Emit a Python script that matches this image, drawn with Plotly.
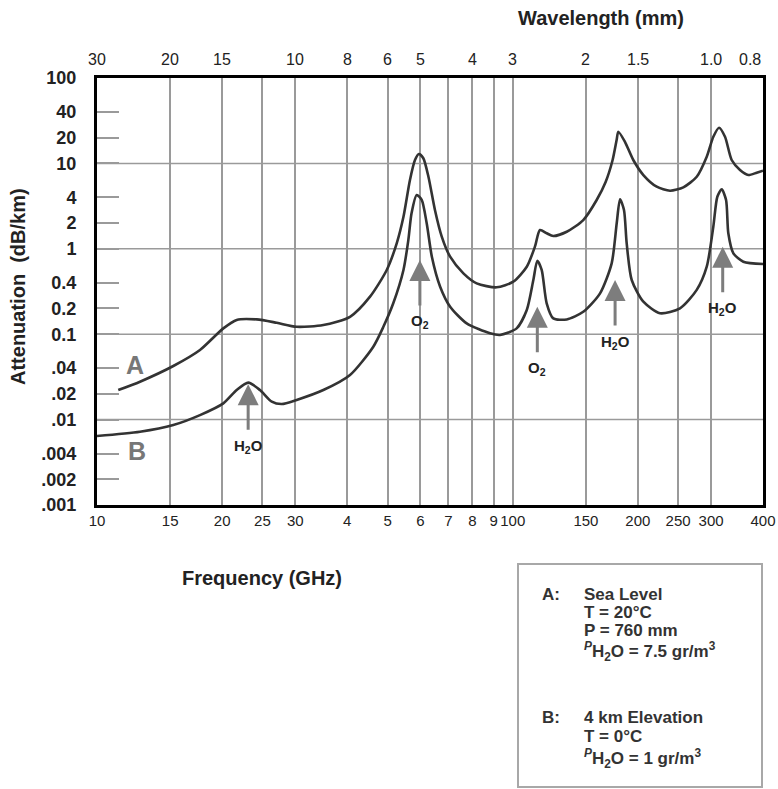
import math
import plotly.graph_objects as go

# Frequency axis ticks (GHz) and the labels printed under them
freq_ticks = [10, 15, 20, 25, 30, 40, 50, 60, 70, 80, 90, 100, 150, 200, 250, 300, 400]
freq_labels = ["10", "15", "20", "25", "30", "4", "5", "6", "7", "8", "9",
               "100", "150", "200", "250", "300", "400"]

# Wavelength scale along the top (mm) and the frequency each label sits at
wave_labels = ["30", "20", "15", "10", "8", "6", "5", "4", "3", "2", "1.5", "1.0", "0.8"]
wave_freq = [10, 15, 20, 30, 40, 50, 60, 80, 100, 150, 200, 300, 372]

# Attenuation axis (dB/km)
att_ticks = [100, 40, 20, 10, 4, 2, 1, 0.4, 0.2, 0.1, 0.04, 0.02, 0.01, 0.004, 0.002, 0.001]
att_labels = ["100", "40", "20", "10", "4", "2", "1", "0.4", "0.2", "0.1",
              ".04", ".02", ".01", ".004", ".002", ".001"]
att_grid = [10, 1, 0.1, 0.01]

# Curve A: sea level, T = 20 C, P = 760 mm, water vapour 7.5 g/m3
freq_a = [11.25, 12.69, 15.26, 17.69, 20.13, 21.68, 24.23, 27.06, 30.22, 35.03,
          40.61, 45.37, 49.77, 52.6, 54.6, 56.6, 58.2, 59.5, 60.95, 62.7,
          65.0, 67.5, 70.7, 76.1, 81.9, 91.5, 100.3, 108.1, 113.1, 116.3,
          120.7, 125.2, 134.9, 147.8, 159.2, 167.3, 173.9, 177.8, 179.5, 186.2,
          195.0, 206.2, 222.0, 239.0, 257.3, 277.1, 292.9, 303.8, 313.5, 324.1,
          336.3, 352.2, 368.7, 386.3, 400]
att_a = [0.0222, 0.0278, 0.0424, 0.0653, 0.117, 0.147, 0.149, 0.136, 0.122, 0.128,
         0.160, 0.275, 0.565, 1.16, 2.37, 6.4, 10.96, 12.9, 11.5, 6.98,
         2.85, 1.39, 0.808, 0.516, 0.394, 0.354, 0.412, 0.617, 1.06, 1.66,
         1.52, 1.41, 1.585, 2.17, 3.73, 6.06, 10.96, 18.8, 23.5, 17.9,
         10.96, 7.31, 5.34, 4.79, 5.25, 6.98, 11.97, 20.5, 26.2, 20.5,
         10.96, 8.37, 7.31, 7.78, 8.22]

# Curve B: 4 km elevation, T = 0 C, water vapour 1 g/m3
freq_b = [10.0, 12.69, 15.26, 17.69, 20.13, 21.68, 23.12, 24.66, 26.33, 27.82,
          30.22, 35.03, 40.61, 46.2, 48.85, 51.6, 54.6, 56.1, 57.1, 58.75,
          60.4, 62.1, 63.9, 66.9, 70.7, 77.5, 88.2, 93.2, 102.2, 108.1,
          112.1, 114.6, 117.4, 120.7, 125.2, 134.9, 147.8, 162.2, 173.0, 177.9,
          181.2, 185.2, 188.0, 193.3, 206.2, 226.1, 252.6, 277.1, 292.9, 303.8,
          310.6, 318.2, 326.0, 330.1, 339.5, 358.7, 400]
att_b = [0.00643, 0.00722, 0.00865, 0.0113, 0.0155, 0.0222, 0.0271, 0.0222, 0.0162, 0.0152,
         0.0170, 0.0222, 0.0333, 0.0714, 0.122, 0.230, 0.565, 1.27, 2.60, 4.27,
         3.73, 1.99, 0.808, 0.360, 0.210, 0.134, 0.1025, 0.098, 0.117, 0.192,
         0.431, 0.726, 0.565, 0.230, 0.153, 0.149, 0.183, 0.301, 0.676, 1.99,
         3.80, 2.85, 1.16, 0.431, 0.240, 0.176, 0.201, 0.330, 0.617, 1.82,
         4.07, 4.98, 3.73, 1.52, 0.885, 0.706, 0.664]

# Absorption lines marked with arrows: (frequency, attenuation at arrow tip, label)
lines = [
    (23.1, 0.026, "H<sub>2</sub>O"),
    (59.8, 0.74, "O<sub>2</sub>"),
    (114.6, 0.21, "O<sub>2</sub>"),
    (176.3, 0.43, "H<sub>2</sub>O"),
    (320.0, 1.06, "H<sub>2</sub>O"),
]

W, H = 778, 789
L, R, T, B = 97, 15, 78, 284
PW, PH = W - L - R, H - T - B
FONT = "Liberation Sans, Arial, sans-serif"
INK = "#222222"
GRID = "#9a9a9a"
ARROW = "#7d7d7d"


def px(x):
    return (x - L) / PW


def py(y):
    return (H - B - y) / PH


fig = go.Figure()
for f, a in ((freq_a, att_a), (freq_b, att_b)):
    fig.add_trace(go.Scatter(
        x=f, y=a, mode="lines",
        line=dict(color="#333333", width=2.6, shape="spline", smoothing=0.7),
        hoverinfo="skip",
    ))

shapes = []
for g in att_grid:
    shapes.append(dict(type="line", xref="paper", x0=0, x1=1, yref="y",
                       y0=g, y1=g, line=dict(color=GRID, width=1.5), layer="below"))
# condition box
shapes.append(dict(type="rect", xref="paper", yref="paper",
                   x0=px(518), x1=px(762), y0=py(787), y1=py(564),
                   line=dict(color="#a8a8a8", width=2)))

ann = []


def text_at(x, y, t, size, weight="normal", color=INK, xanchor="center", angle=0):
    ann.append(dict(x=px(x), y=py(y), xref="paper", yref="paper", text=t,
                    showarrow=False, xanchor=xanchor, yanchor="middle", textangle=angle,
                    font=dict(family=FONT, size=size, color=color, weight=weight)))


# wavelength scale
for lab, f in zip(wave_labels, wave_freq):
    ann.append(dict(x=math.log10(f), y=py(60), xref="x", yref="paper", text=lab,
                    showarrow=False, xanchor="center", yanchor="middle",
                    font=dict(family=FONT, size=16, color=INK)))
text_at(601, 18, "Wavelength (mm)", 20, "bold")
text_at(262, 578, "Frequency (GHz)", 20, "bold")
text_at(18, 287, "Attenuation  (dB/km)", 20, "bold", angle=-90)

# curve tags
text_at(135, 365, "A", 25, "bold", "#777777")
text_at(137, 451, "B", 25, "bold", "#777777")

# absorption arrows and their labels
for f, a, lab in lines:
    ann.append(dict(x=math.log10(f), y=math.log10(a), xref="x", yref="y", text="",
                    showarrow=True, ax=0, ay=47, arrowhead=2, arrowsize=1.4,
                    arrowwidth=3, arrowcolor=ARROW, standoff=0))
    ann.append(dict(x=math.log10(f), y=math.log10(a), xref="x", yref="y", text=lab,
                    showarrow=False, yshift=-62, xanchor="center", yanchor="middle",
                    font=dict(family=FONT, size=15, color=INK, weight="bold")))

# condition box text
box_lines = [
    (540, 594, "A:"), (582, 594, "Sea Level"), (582, 612, "T = 20°C"),
    (582, 630, "P = 760 mm"),
    (582, 651, "<sup><i>P</i></sup>H<sub>2</sub>O = 7.5 gr/m<sup>3</sup>"),
    (540, 717, "B:"), (582, 717, "4 km Elevation"), (582, 736, "T = 0°C"),
    (582, 758, "<sup><i>P</i></sup>H<sub>2</sub>O = 1 gr/m<sup>3</sup>"),
]
for x, y, t in box_lines:
    text_at(x, y, t, 17, "bold", "#333333", xanchor="left")

fig.update_layout(
    width=W, height=H,
    margin=dict(l=L, r=R, t=T, b=B, autoexpand=False),
    paper_bgcolor="white", plot_bgcolor="white",
    showlegend=False,
    font=dict(family=FONT, color=INK),
    shapes=shapes, annotations=ann,
    xaxis=dict(type="log", range=[1, math.log10(400)], tickmode="array",
               tickvals=freq_ticks, ticktext=freq_labels, automargin=False,
               tickangle=0, ticklabeloverflow="allow",
               showgrid=True, gridcolor=GRID, gridwidth=1.5,
               showline=True, linecolor="black", linewidth=3, mirror=True,
               ticks="", tickfont=dict(family=FONT, size=15, color=INK),
               ticklabelstandoff=0, zeroline=False),
    yaxis=dict(type="log", range=[-3, 2], tickmode="array",
               tickvals=att_ticks, ticktext=att_labels, automargin=False,
               showgrid=False, ticks="inside", ticklen=22, tickwidth=2, tickcolor=GRID,
               showline=True, linecolor="black", linewidth=3, mirror=True,
               tickfont=dict(family=FONT, size=18, color=INK, weight="bold"),
               ticklabelstandoff=14, zeroline=False),
)

fig.write_html("out.html")
